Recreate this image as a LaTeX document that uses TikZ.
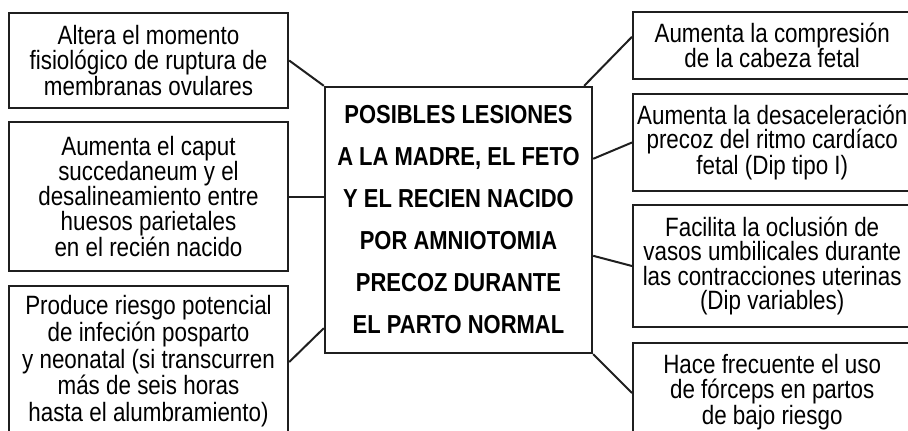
\documentclass[tikz,border=0pt]{standalone}
\usepackage{fontspec}
\setmainfont[FakeStretch=0.845]{Liberation Sans}
\usetikzlibrary{calc}

\begin{document}
\begin{tikzpicture}[x=1pt,y=-1pt,
    caja/.style={draw=black!88,line width=2.4pt,align=center,inner sep=4pt,
      font=\fontsize{26.5}{24.5}\selectfont},
    izq/.style={caja,minimum width=279pt},
    der/.style={caja,anchor=west,minimum width=278pt},
    enlace/.style={black!88,line width=2pt}]
  \useasboundingbox (0,0) rectangle (908,431);
  \clip (0,0) rectangle (908,431);
  % centro
  \node[caja,minimum width=267pt,minimum height=266pt,
    font=\bfseries\fontsize{26}{42}\selectfont] (lesiones) at (458.5,220)
    {POSIBLES LESIONES\\A LA MADRE, EL FETO\\Y EL RECIEN NACIDO\\
     POR AMNIOTOMIA\\PRECOZ DURANTE\\EL PARTO NORMAL};
  % izquierda
  \node[izq,minimum height=95pt,font=\fontsize{26.5}{24.5}\selectfont] (membranas) at (148.5,60.5)
    {Altera el momento\\fisiológico de ruptura de\\membranas ovulares};
  \node[izq,minimum height=149pt,font=\fontsize{26.5}{25}\selectfont] (caput) at (148.5,196.5)
    {Aumenta el caput\\succedaneum y el\\desalineamiento entre\\
     huesos parietales\\en el recién nacido};
  \node[izq,anchor=north,inner ysep=9pt,font=\fontsize{26.5}{26.8}\selectfont] (infeccion) at (148.5,285)
    {Produce riesgo potencial\\de infeción posparto\\y neonatal (si transcurren\\
     más de seis horas\\hasta el alumbramiento)\rule[-40pt]{0pt}{40pt}};
  % derecha
  \node[der,minimum height=67pt,font=\fontsize{26.5}{25}\selectfont] (compresion) at (632,45.5)
    {Aumenta la compresión\\de la cabeza fetal};
  \node[der,minimum height=97pt,font=\fontsize{26.5}{24.2}\selectfont] (desaceleracion) at (632,142.5)
    {Aumenta la desaceleración\\precoz del ritmo cardíaco\\fetal (Dip tipo I)};
  \node[der,minimum height=122pt] (oclusion) at (632,266)
    {Facilita la oclusión de\\vasos umbilicales durante\\las contracciones uterinas\\
     (Dip variables)};
  \node[der,anchor=north west,inner ysep=11pt,font=\fontsize{26.5}{25.5}\selectfont] (forceps) at (632,342)
    {Hace frecuente el uso\\de fórceps en partos\\de bajo riesgo\rule[-40pt]{0pt}{40pt}};
  % enlaces
  \draw[enlace] (membranas.east) -- (lesiones.north west);
  \draw[enlace] (caput.east) -- (caput.east -| lesiones.west);
  \draw[enlace] ($(infeccion.north east)+(0,77)$) -- ($(lesiones.south west)+(0,-26)$);
  \draw[enlace] ($(compresion.north west)+(0,26)$) -- ($(lesiones.north east)+(-9,0)$);
  \draw[enlace] (desaceleracion.west) -- ($(lesiones.north east)+(0,73)$);
  \draw[enlace] (oclusion.west) -- ($(lesiones.north east)+(0,170)$);
  \draw[enlace] ($(forceps.north west)+(0,51)$) -- (lesiones.south east);
\end{tikzpicture}
\end{document}
